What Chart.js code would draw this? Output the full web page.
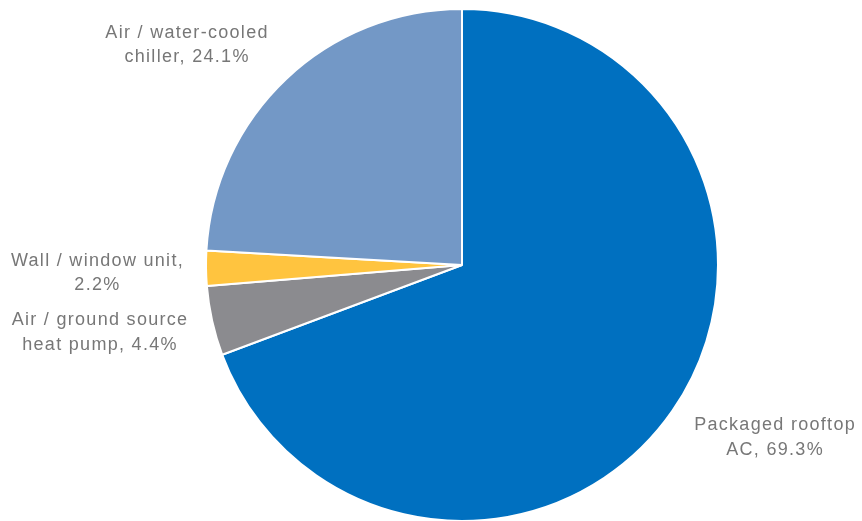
<!DOCTYPE html>
<html>
<head>
<meta charset="utf-8">
<script src="https://cdn.jsdelivr.net/npm/chart.js@4/dist/chart.umd.min.js"></script>
<style>
  html, body { margin: 0; padding: 0; background: #ffffff; }
  #wrap { width: 862px; height: 521px; position: relative; }
</style>
</head>
<body>
<div id="wrap"><canvas id="c" width="862" height="521"></canvas></div>
<script>
// Share of cooling equipment type (percent)
const categories = [
  'Packaged rooftop AC',
  'Air / ground source heat pump',
  'Wall / window unit',
  'Air / water-cooled chiller'
];
const shares = [69.3, 4.4, 2.2, 24.1];
const labelLines = [
  ['Packaged rooftop', 'AC, 69.3%'],
  ['Air / ground source', 'heat pump, 4.4%'],
  ['Wall / window unit,', '2.2%'],
  ['Air / water-cooled', 'chiller, 24.1%']
];
const sliceColors = ['#0070C0', '#8B8B8F', '#FFC43F', '#7398C6'];

// Label anchors, in units of the pie radius from its centre
const labelAnchors = [
  [1.223, 0.674],
  [-1.414, 0.264],
  [-1.424, 0.031],
  [-1.074, -0.859]
];

const outsideLabels = {
  id: 'outsideLabels',
  afterDatasetsDraw(chart) {
    const meta = chart.getDatasetMeta(0);
    const arc0 = meta.data[0];
    if (!arc0) return;
    const { x: cx, y: cy, outerRadius: r } = arc0.getProps(['x', 'y', 'outerRadius'], true);
    const ctx = chart.ctx;
    ctx.save();
    ctx.font = '18px "Liberation Sans", Arial, sans-serif';
    if ('letterSpacing' in ctx) ctx.letterSpacing = '1.3px';
    ctx.fillStyle = '#777777';
    ctx.textAlign = 'center';
    ctx.textBaseline = 'middle';
    const lh = 24.5;
    labelLines.forEach((lines, i) => {
      const [fx, fy] = labelAnchors[i];
      const lx = cx + fx * r;
      const ly = cy + fy * r;
      lines.forEach((t, j) => {
        ctx.fillText(t, lx, ly + (j - (lines.length - 1) / 2) * lh);
      });
    });
    ctx.restore();
  }
};

new Chart(document.getElementById('c'), {
  type: 'pie',
  data: {
    labels: categories,
    datasets: [{
      data: shares,
      backgroundColor: sliceColors,
      borderColor: '#ffffff',
      borderWidth: 2,
      radius: 256
    }]
  },
  options: {
    responsive: false,
    animation: false,
    layout: { padding: { left: 206, right: 144, top: 9, bottom: 0 } },
    plugins: {
      legend: { display: false },
      tooltip: { enabled: false }
    }
  },
  plugins: [outsideLabels]
});
</script>
</body>
</html>
